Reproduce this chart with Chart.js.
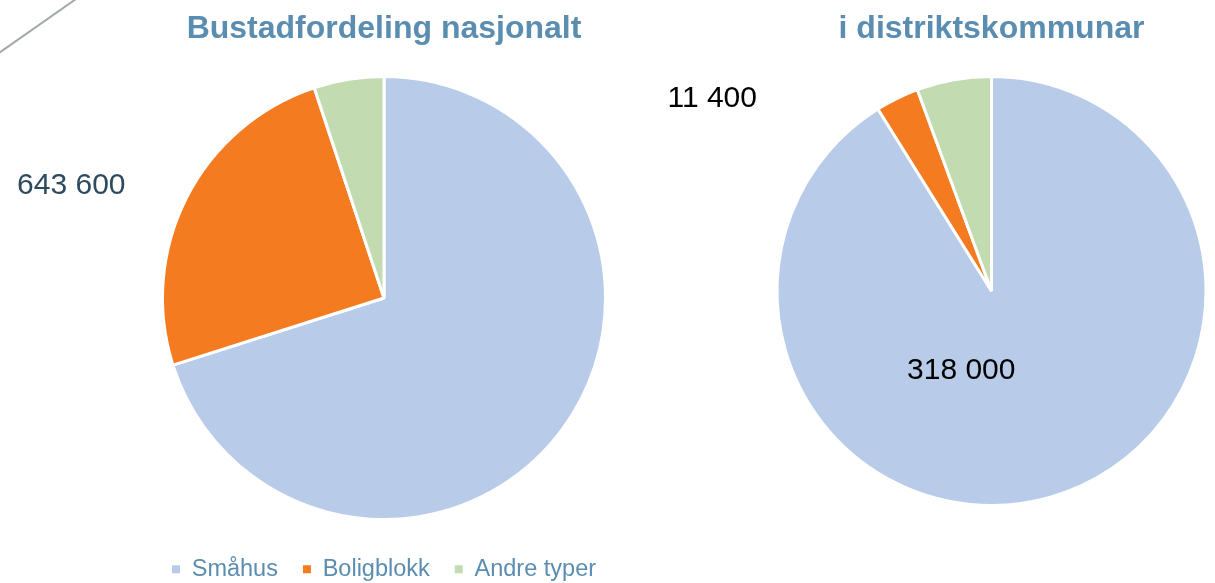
<!DOCTYPE html>
<html>
<head>
<meta charset="utf-8">
<script src="https://cdn.jsdelivr.net/npm/chart.js@4/dist/chart.umd.min.js"></script>
<style>
  html, body {margin: 0; padding: 0; background: #fff; overflow: hidden;}
  #wrap {position: relative; width: 1215px; height: 583px; overflow: hidden;}
  #venstre {position: absolute; left: 0; top: 0;}
  #hogre {position: absolute; left: 600px; top: 0;}
</style>
</head>
<body>
<div id="wrap">
  <canvas id="venstre" width="768" height="591"></canvas>
  <canvas id="hogre" width="615" height="583"></canvas>
</div>
<script>
const kategoriar = ['Småhus', 'Boligblokk', 'Andre typer'];
const nasjonalt = [1819000, 643600, 132400];
const distrikt = [318000, 11400, 19600];
const fargar = ['#b8cbe9', '#f47b20', '#c3dbb0'];

const FONT = '"Liberation Sans", Arial, sans-serif';
const tittelFarge = '#5b8db1';

const fmt = (v) => String(v).replace(/\B(?=(\d{3})+(?!\d))/g, ' ');

// draws the value labels at a polar position relative to the pie
const verdiEtiketter = {
  id: 'verdiEtiketter',
  afterDatasetsDraw(chart, args, opts) {
    const ctx = chart.ctx;
    const meta = chart.getDatasetMeta(0);
    const data = chart.data.datasets[0].data;
    ctx.save();
    ctx.font = '30px ' + FONT;
    ctx.textAlign = 'center';
    ctx.textBaseline = 'middle';
    (opts.liste || []).forEach((e) => {
      const arc = meta.data[e.index];
      const r = arc.outerRadius;
      const a = e.vinkel * Math.PI / 180;
      ctx.fillStyle = e.farge;
      ctx.fillText(fmt(data[e.index]), arc.x + Math.sin(a) * e.avstand * r,
          arc.y - Math.cos(a) * e.avstand * r);
    });
    ctx.restore();
  },
};

const pynteStrek = {
  id: 'pynteStrek',
  afterDraw(chart) {
    const ctx = chart.ctx;
    ctx.save();
    ctx.strokeStyle = '#a3a8ab';
    ctx.lineWidth = 2;
    ctx.beginPath();
    ctx.moveTo(-1, 53);
    ctx.lineTo(76, -1);
    ctx.stroke();
    ctx.restore();
  },
};

const tittel = (tekst, botn) => ({
  display: true,
  text: tekst,
  color: tittelFarge,
  font: {family: FONT, size: 32, weight: 'bold'},
  padding: {top: 10, bottom: botn},
});

const legendLabels = (chart) => {
  const def = Chart.overrides.pie.plugins.legend.labels.generateLabels(chart);
  return def.map((l) => Object.assign(l, {lineWidth: 0}));
};

new Chart(document.getElementById('venstre'), {
  type: 'pie',
  data: {
    labels: kategoriar,
    datasets: [{
      data: nasjonalt,
      backgroundColor: fargar,
      borderColor: '#ffffff',
      borderWidth: 3,
      radius: 221.5,
    }],
  },
  options: {
    responsive: false,
    animation: false,
    events: [],
    layout: {padding: 0},
    plugins: {
      title: tittel('Bustadfordeling nasjonalt', 15.1),
      legend: {
        position: 'bottom',
        labels: {
          boxWidth: 8,
          boxHeight: 8,
          padding: 25,
          color: tittelFarge,
          font: {family: FONT, size: 23.5},
          generateLabels: legendLabels,
        },
      },
      tooltip: {enabled: false},
      verdiEtiketter: {
        liste: [{index: 1, vinkel: 289.75, avstand: 1.5, farge: '#2d4a5f'}],
      },
    },
  },
  plugins: [verdiEtiketter, pynteStrek],
});

new Chart(document.getElementById('hogre'), {
  type: 'pie',
  data: {
    labels: kategoriar,
    datasets: [{
      data: distrikt,
      backgroundColor: fargar,
      borderColor: '#ffffff',
      borderWidth: 3,
      radius: 214.5,
    }],
  },
  options: {
    responsive: false,
    animation: false,
    events: [],
    layout: {padding: {left: 168, bottom: 69}},
    plugins: {
      title: tittel('i distriktskommunar', 19.6),
      legend: {display: false},
      tooltip: {enabled: false},
      verdiEtiketter: {
        liste: [
          {index: 1, vinkel: 304.5, avstand: 1.58, farge: '#000000'},
          {index: 0, vinkel: 200.8, avstand: 0.397, farge: '#000000'},
        ],
      },
    },
  },
  plugins: [verdiEtiketter],
});
</script>
</body>
</html>
